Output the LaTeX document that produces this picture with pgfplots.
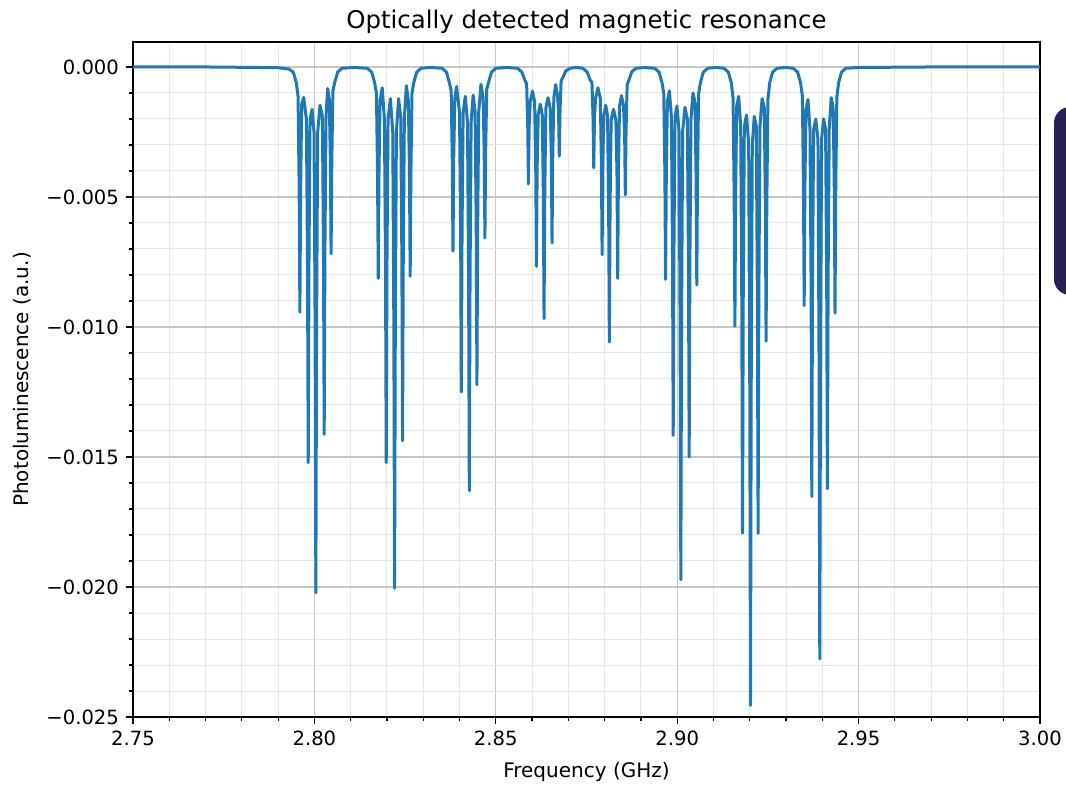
\documentclass[border=0pt]{standalone}
\usepackage{fontspec}
\setmainfont{DejaVu Sans}
\usepackage{pgfplots}
\pgfplotsset{compat=1.18}
\definecolor{mplblue}{HTML}{1F77B4}
\definecolor{popup}{RGB}{40,33,82}

\begin{document}
\begin{tikzpicture}
  % page = 1066x784 px at 0.5pt per px, axis box corner at origin
  \path[use as bounding box] (-66.5pt,-33.5pt) rectangle (466.5pt,358.5pt);
  \begin{axis}[
      at={(0,0)}, anchor=south west,
      scale only axis,
      width=453.5pt, height=337.5pt,
      xmin=2.75, xmax=3.0,
      ymin=-0.025, ymax=0.00096,
      scaled x ticks=false, scaled y ticks=false,
      xtick={2.75,2.8,2.85,2.9,2.95,3.0},
      xticklabels={2.75,2.80,2.85,2.90,2.95,3.00},
      ytick={-0.025,-0.02,-0.015,-0.01,-0.005,0},
      yticklabels={−0.025,−0.020,−0.015,−0.010,−0.005,0.000},
      minor x tick num=4, minor y tick num=4,
      grid=both,
      major grid style={line width=0.6pt, color=black!22},
      minor grid style={line width=0.5pt, color=black!10},
      tick align=outside, tickpos=left,
      major tick length=3.5pt, minor tick length=2pt,
      tick style={black, line width=0.6pt},
      axis line style={line width=0.7pt},
      tick label style={font=\fontsize{9.8}{11}\selectfont},
      label style={font=\fontsize{10}{12}\selectfont},
      every axis title shift=0pt,
      title={Optically detected magnetic resonance},
      title style={font=\fontsize{12.2}{14}\selectfont, at={(axis description cs:0.5,1.0207)}, anchor=base},
      xlabel={Frequency (GHz)},
      xlabel style={at={(axis description cs:0.5,-0.0889)}, anchor=base},
      ylabel={Photoluminescence (a.u.)},
      ylabel style={at={(axis description cs:-0.1224,0.5)}, anchor=center},
    ]
    \addplot[mplblue, line width=1.5pt, line join=round, mark=none] coordinates {
      (2.7500,0) (2.7700,0) (2.7850,-0.00002) (2.7900,-0.00003)
      % group 1
      (2.7930,-0.00008) (2.7942,-0.0002) (2.7950,-0.0006) (2.7955,-0.00114) (2.7958,-0.00472) (2.7960,-0.00943) (2.7962,-0.00472) (2.7965,-0.00144)
      (2.79705,-0.00117) (2.7978,-0.00202) (2.7981,-0.00761) (2.7983,-0.01522) (2.7985,-0.00761) (2.7988,-0.00202)
      (2.79935,-0.00163) (2.7999,-0.00252) (2.8002,-0.01011) (2.8004,-0.02022) (2.8006,-0.01011) (2.8009,-0.00252)
      (2.80155,-0.00147) (2.8022,-0.00191) (2.8025,-0.00707) (2.8027,-0.01413) (2.8029,-0.00707) (2.8032,-0.00191)
      (2.80365,-0.00083) (2.8041,-0.00122) (2.8044,-0.00359) (2.8046,-0.00718) (2.8048,-0.00359) (2.8051,-0.00092)
      (2.8056,-0.0006) (2.8064,-0.0002) (2.8076,-0.00005) (2.8110,-0.00002)
      % group 2
      (2.8146,-0.00005) (2.8158,-0.0002) (2.8166,-0.0006) (2.8171,-0.00101) (2.8174,-0.00407) (2.8176,-0.00813) (2.8178,-0.00407) (2.8181,-0.00131)
      (2.8187,-0.0008) (2.8193,-0.00202) (2.8196,-0.00761) (2.8198,-0.01522) (2.8200,-0.00761) (2.8203,-0.00202)
      (2.82095,-0.00122) (2.8216,-0.00251) (2.8219,-0.01003) (2.8221,-0.02005) (2.8223,-0.01003) (2.8226,-0.00251)
      (2.8232,-0.00122) (2.8238,-0.00194) (2.8241,-0.00719) (2.8243,-0.01438) (2.8245,-0.00719) (2.8248,-0.00194)
      (2.82535,-0.00072) (2.8259,-0.00131) (2.8262,-0.00403) (2.8264,-0.00805) (2.8266,-0.00403) (2.8269,-0.00101)
      (2.8274,-0.0006) (2.8282,-0.0002) (2.8294,-0.00005) (2.8320,-0.00002)
      % group 3
      (2.8352,-0.00005) (2.8364,-0.0002) (2.8372,-0.0006) (2.8377,-0.00091) (2.8380,-0.00354) (2.8382,-0.00708) (2.8384,-0.00354) (2.8387,-0.00121)
      (2.8392,-0.00075) (2.8400,-0.00175) (2.8403,-0.00625) (2.8405,-0.0125) (2.8407,-0.00625) (2.8410,-0.00175)
      (2.8416,-0.00113) (2.8422,-0.00213) (2.8425,-0.00815) (2.8427,-0.0163) (2.8429,-0.00815) (2.8432,-0.00213)
      (2.84375,-0.00108) (2.8443,-0.00172) (2.8446,-0.00611) (2.8448,-0.01222) (2.8450,-0.00611) (2.8453,-0.00172)
      (2.8459,-0.00067) (2.8465,-0.00116) (2.8468,-0.00329) (2.8470,-0.00658) (2.8472,-0.00329) (2.8475,-0.00086)
      (2.8480,-0.0006) (2.8488,-0.0002) (2.8500,-0.00005) (2.8530,-0.00002)
      % group 4
      (2.8560,-0.00005) (2.8572,-0.0002) (2.8580,-0.0005) (2.8585,-0.00065) (2.8588,-0.00225) (2.8590,-0.0045) (2.8592,-0.00225) (2.8595,-0.00133)
      (2.8601,-0.00093) (2.8607,-0.00133) (2.8610,-0.00384) (2.8612,-0.00767) (2.8614,-0.00384) (2.8617,-0.00183)
      (2.86225,-0.00143) (2.8628,-0.00183) (2.8631,-0.00484) (2.8633,-0.00968) (2.8635,-0.00484) (2.8638,-0.00158)
      (2.8644,-0.00118) (2.8650,-0.00158) (2.8653,-0.00339) (2.8655,-0.00677) (2.8657,-0.00339) (2.8660,-0.00118)
      (2.8665,-0.00068) (2.8670,-0.00108) (2.8673,-0.00172) (2.8675,-0.00343) (2.8677,-0.00172) (2.8680,-0.00054)
      (2.8685,-0.0004) (2.8693,-0.00015) (2.8705,-0.00005) (2.8720,-0.00002)
      % group 5
      (2.8740,-0.00005) (2.8752,-0.0002) (2.8760,-0.0005) (2.8765,-0.00059) (2.8768,-0.00194) (2.8770,-0.00388) (2.8772,-0.00194) (2.8775,-0.0012)
      (2.87815,-0.0008) (2.8788,-0.0012) (2.8791,-0.00361) (2.8793,-0.00722) (2.8795,-0.00361) (2.8798,-0.00187)
      (2.8803,-0.00147) (2.8808,-0.00187) (2.8811,-0.00529) (2.8813,-0.01058) (2.8815,-0.00529) (2.8818,-0.00203)
      (2.88245,-0.00163) (2.8831,-0.00203) (2.8834,-0.00407) (2.8836,-0.00813) (2.8838,-0.00407) (2.8841,-0.0015)
      (2.88465,-0.0011) (2.8852,-0.0015) (2.8855,-0.00246) (2.8857,-0.00492) (2.8859,-0.00246) (2.8862,-0.00069)
      (2.8867,-0.0005) (2.8875,-0.00018) (2.8887,-0.00005) (2.8910,-0.00002)
      % group 6
      (2.8938,-0.00005) (2.8950,-0.0002) (2.8958,-0.0006) (2.8963,-0.00102) (2.8966,-0.00409) (2.8968,-0.00817) (2.8970,-0.00409) (2.8973,-0.00132)
      (2.89785,-0.00092) (2.8984,-0.00192) (2.8987,-0.00709) (2.8989,-0.01417) (2.8991,-0.00709) (2.8994,-0.00192)
      (2.89995,-0.0015) (2.9005,-0.00247) (2.9008,-0.00986) (2.9010,-0.01972) (2.9012,-0.00986) (2.9015,-0.00247)
      (2.90215,-0.00155) (2.9028,-0.002) (2.9031,-0.0075) (2.9033,-0.015) (2.9035,-0.0075) (2.9038,-0.002)
      (2.90435,-0.001) (2.9049,-0.00134) (2.9052,-0.00419) (2.9054,-0.00838) (2.9056,-0.00419) (2.9059,-0.00104)
      (2.9064,-0.0006) (2.9072,-0.0002) (2.9084,-0.00005) (2.9105,-0.00002)
      % group 7
      (2.9129,-0.00005) (2.9141,-0.0002) (2.9149,-0.0006) (2.9154,-0.0012) (2.9157,-0.00499) (2.9159,-0.00997) (2.9161,-0.00499) (2.9164,-0.0015)
      (2.91695,-0.00113) (2.9175,-0.00229) (2.9178,-0.00897) (2.9180,-0.01793) (2.9182,-0.00897) (2.9185,-0.00229)
      (2.9191,-0.00185) (2.9197,-0.00296) (2.9200,-0.01228) (2.9202,-0.02455) (2.9204,-0.01228) (2.9207,-0.00296)
      (2.92125,-0.0019) (2.9218,-0.00229) (2.9221,-0.00897) (2.9223,-0.01793) (2.9225,-0.00897) (2.9228,-0.00229)
      (2.9234,-0.00122) (2.9240,-0.00156) (2.9243,-0.00528) (2.9245,-0.01055) (2.9247,-0.00528) (2.9250,-0.00126)
      (2.9255,-0.0006) (2.9263,-0.0002) (2.9275,-0.00005) (2.9298,-0.00002)
      % group 8
      (2.9320,-0.00005) (2.9332,-0.0002) (2.9340,-0.0006) (2.9345,-0.00112) (2.9348,-0.00459) (2.9350,-0.00918) (2.9352,-0.00459) (2.9355,-0.00165)
      (2.93605,-0.00125) (2.9366,-0.0024) (2.9369,-0.00826) (2.9371,-0.01652) (2.9373,-0.00826) (2.9376,-0.0024)
      (2.9382,-0.002) (2.9388,-0.00278) (2.9391,-0.01139) (2.9393,-0.02277) (2.9395,-0.01139) (2.9398,-0.00278)
      (2.94035,-0.002) (2.9409,-0.0024) (2.9412,-0.00811) (2.9414,-0.01622) (2.9416,-0.00811) (2.9419,-0.0024)
      (2.94245,-0.00118) (2.9430,-0.00158) (2.9433,-0.00474) (2.9435,-0.00947) (2.9437,-0.00474) (2.9440,-0.00115)
      (2.9445,-0.0006) (2.9453,-0.0002) (2.9465,-0.00005) (2.9500,-0.00002) (2.9700,0) (3.0000,0)
    };
  \end{axis}
  % dark panel cut by the right edge of the screenshot
  \fill[popup, rounded corners=8pt] (460.5pt,211pt) rectangle (485pt,305pt);
\end{tikzpicture}
\end{document}
